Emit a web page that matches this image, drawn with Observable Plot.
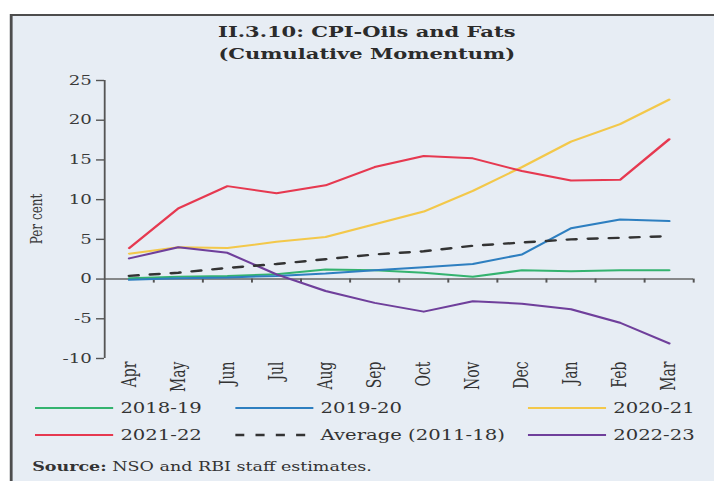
<!DOCTYPE html>
<html>
<head>
<meta charset="utf-8">
<script src="https://cdn.jsdelivr.net/npm/d3@7"></script>
<script src="https://cdn.jsdelivr.net/npm/@observablehq/plot@0.6"></script>
<style>
  html, body { margin: 0; padding: 0; background: #ffffff; }
  body { width: 714px; height: 481px; overflow: hidden; position: relative; font-family: "DejaVu Serif", serif; }
  #stage { position: absolute; left: 0; top: 0; width: 510px; height: 481px; transform-origin: 0 0; }
  #box { position: absolute; left: 7px; top: 14px; width: 520px; height: 480px; background: #e7edf4; border: 2px solid #4d4d4d; box-sizing: border-box; }
  #title { position: absolute; left: 0; top: 21px; width: 524px; text-align: center; font-weight: bold; font-size: 15px; line-height: 22px; color: #2b2b2b; }
  #chart { position: absolute; left: 0; top: 60px; }
  #ylabel { position: absolute; left: 26.4px; top: 219px; transform: translate(-50%, -50%) rotate(-90deg); font-size: 12px; color: #3a3a3a; white-space: nowrap; }
  .lrow { position: absolute; left: 0; height: 20px; width: 510px; }
  .item { position: absolute; top: 0; height: 20px; display: flex; align-items: center; font-size: 14px; color: #333; white-space: nowrap; }
  .item svg { margin-right: 5px; }
  #source { position: absolute; left: 23px; top: 458px; font-size: 12.5px; line-height: 18px; color: #333; white-space: nowrap; }
</style>
</head>
<body>
<div id="stage">
  <div id="box"></div>
  <div id="title">II.3.10: CPI-Oils and Fats<br>(Cumulative Momentum)</div>
  <div id="chart"></div>
  <div id="ylabel">Per cent</div>
  <div id="legend"></div>
  <div id="source"><b>Source:</b> NSO and RBI staff estimates.</div>
</div>
<script>
// ---- data ----
const months = ["Apr","May","Jun","Jul","Aug","Sep","Oct","Nov","Dec","Jan","Feb","Mar"];
const seriesNames = ["2018-19","2019-20","2020-21","2021-22","Average (2011-18)","2022-23"];
const v2018_19 = [0.1, 0.3, 0.4, 0.6, 1.2, 1.1, 0.8, 0.3, 1.1, 1.0, 1.1, 1.1];
const v2019_20 = [-0.1, 0.1, 0.2, 0.4, 0.7, 1.1, 1.5, 1.9, 3.1, 6.4, 7.5, 7.3];
const v2020_21 = [3.2, 4.0, 3.9, 4.7, 5.3, 6.9, 8.5, 11.1, 14.1, 17.3, 19.5, 22.6];
const v2021_22 = [3.9, 8.9, 11.7, 10.8, 11.8, 14.1, 15.5, 15.2, 13.6, 12.4, 12.5, 17.6];
const vAverage = [0.4, 0.8, 1.4, 1.9, 2.5, 3.1, 3.5, 4.2, 4.6, 5.0, 5.2, 5.4];
const v2022_23 = [2.6, 4.0, 3.3, 0.6, -1.5, -3.0, -4.1, -2.8, -3.1, -3.8, -5.5, -8.1];
const yTicks = [-10, -5, 0, 5, 10, 15, 20, 25];
const seriesColors = ["#34b36f", "#2e7fc0", "#f3c84a", "#e63950", "#333333", "#6f3f9b"];
const seriesValues = [v2018_19, v2019_20, v2020_21, v2021_22, vAverage, v2022_23];

// ---- layout ----
const S = 1.4; // horizontal stretch of the reference
document.getElementById("stage").style.transform = `scaleX(${S})`;
const W = 714 / S;

const rows = seriesNames.flatMap((name, k) => seriesValues[k].map((v, i) => ({series: name, i, v})));
const avgName = seriesNames[4];
const bounds = d3.range(0.5, months.length, 1);

const chart = Plot.plot({
  width: W,
  height: 335,
  marginLeft: 104 / S,
  marginRight: 21 / S,
  marginTop: 20,
  marginBottom: 37,
  style: {background: "transparent", fontFamily: "DejaVu Serif", fontSize: "13px", color: "#3a3a3a", overflow: "visible"},
  x: {domain: [-0.5, months.length - 0.5], axis: null},
  y: {domain: [-10, 25], axis: null},
  color: {domain: seriesNames, range: seriesColors},
  marks: [
    Plot.ruleY([0], {stroke: "#666", strokeWidth: 1.6}),
    Plot.ruleX(bounds, {x: d => d, y1: 0, y2: 0, insetBottom: -4, stroke: "#555", strokeWidth: 1.4}),
    Plot.ruleX([-0.5], {stroke: "#555", strokeWidth: 1.3}),
    Plot.axisY({ticks: yTicks, tickFormat: d => String(d), tickSize: 5.7, tickPadding: 3.5, stroke: "#555", strokeWidth: 1.4, label: null, fontSize: 13, fill: "#3a3a3a"}),
    Plot.axisX({ticks: d3.range(months.length), tickFormat: i => months[i], tickSize: 0, tickPadding: 3, tickRotate: -90, label: null, fontSize: 14, fill: "#333"}),
    Plot.line(rows, {filter: d => d.series !== avgName, x: "i", y: "v", z: "series", stroke: "series", strokeWidth: 2}),
    Plot.line(rows, {filter: d => d.series === avgName, x: "i", y: "v", stroke: "series", strokeWidth: 2.4, strokeDasharray: "6.5,8.5"})
  ]
});
document.getElementById("chart").appendChild(chart);

// ---- legend ----
const legendPos = [
  {row: 0, sx: 25, text: 0},
  {row: 0, sx: 168, text: 1},
  {row: 0, sx: 377, text: 2},
  {row: 1, sx: 25, text: 3},
  {row: 1, sx: 168, text: 4},
  {row: 1, sx: 377, text: 5}
];
const legend = document.getElementById("legend");
const rowTops = [398, 425];
seriesNames.forEach((name, k) => {
  const p = legendPos[k];
  const item = document.createElement("div");
  item.className = "item";
  item.style.left = p.sx + "px";
  item.style.top = rowTops[p.row] + "px";
  const dash = name === avgName ? 'stroke-dasharray="6.5,8"' : "";
  item.innerHTML = `<svg width="56" height="4"><line x1="0" y1="2" x2="56" y2="2" stroke="${seriesColors[k]}" stroke-width="${name === avgName ? 2.4 : 2.2}" ${dash}/></svg><span>${name}</span>`;
  legend.appendChild(item);
});
</script>
</body>
</html>
